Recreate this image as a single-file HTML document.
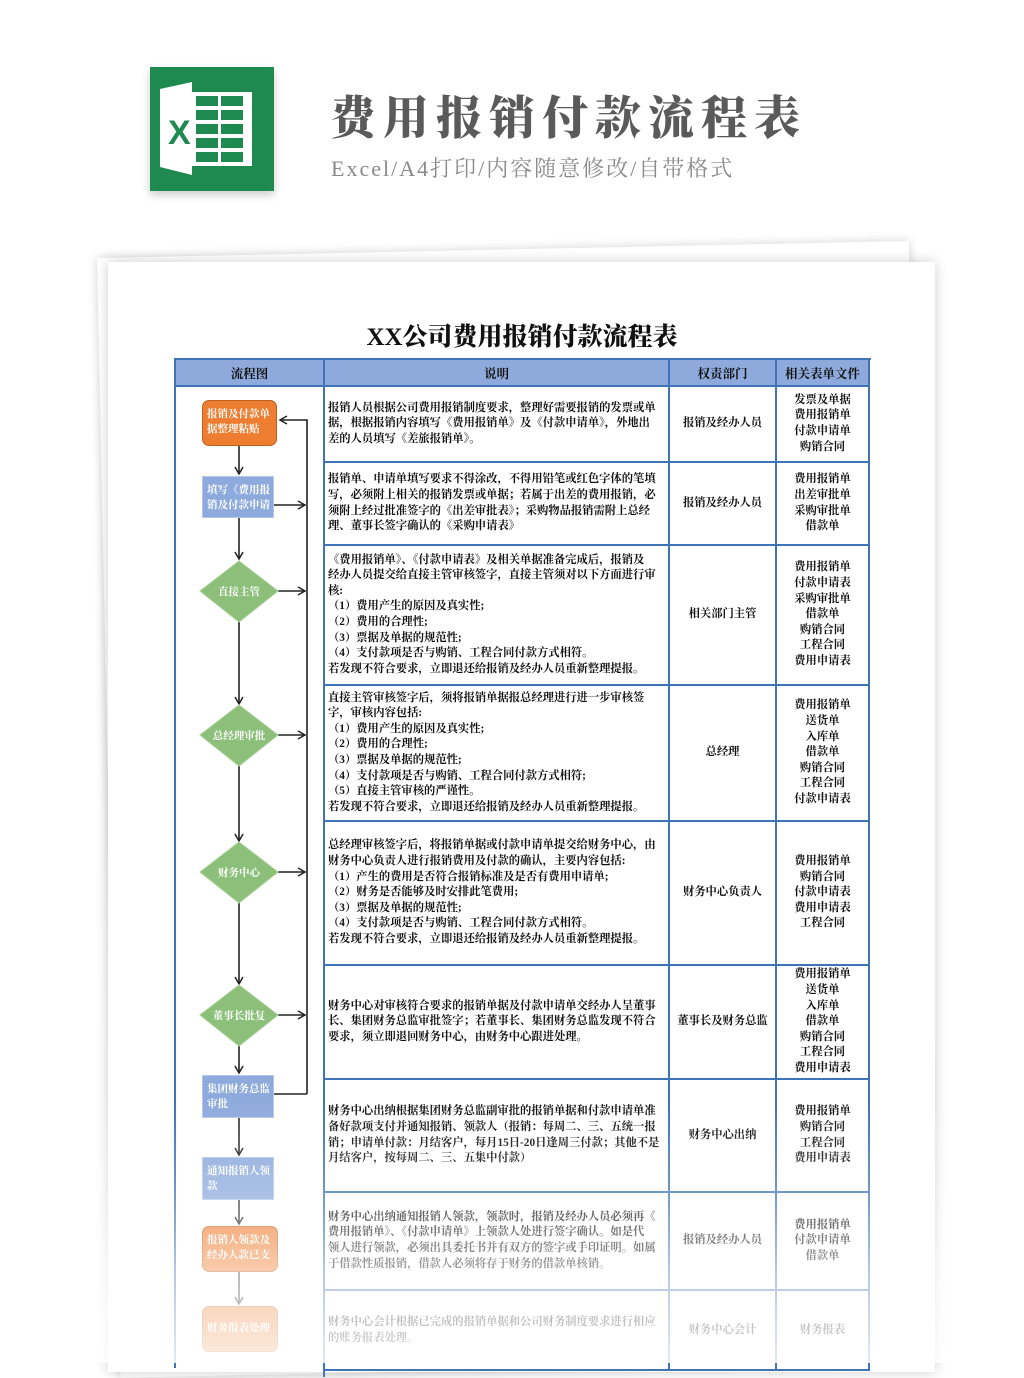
<!DOCTYPE html>
<html><head><meta charset="utf-8">
<style>
*{margin:0;padding:0;box-sizing:border-box}
body{width:1024px;height:1363px;background:#fff;position:relative;overflow:hidden;font-family:"Liberation Serif","Noto Serif CJK SC",serif}
.a{position:absolute}
.cell{position:absolute;display:flex;align-items:center;border-right:2px solid #3f74b8;border-bottom:2px solid #3f74b8}
.desc{font-size:11.3px;line-height:15.6px;padding-left:3px;color:#111;white-space:nowrap;font-weight:700}
.c{justify-content:center;text-align:center;font-size:11.3px;line-height:15.6px;color:#111;font-weight:700}
.hd{background:#8eaadc;font-weight:700;font-size:12.5px;justify-content:center;color:#111}
.node{position:absolute;color:#fff;font-size:10.5px;line-height:15px;padding:6px 3px 0 4px;font-weight:700}
.dtxt{position:absolute;color:#fff;font-size:10.5px;text-align:center;width:80px;font-weight:700}
</style></head><body>
<!-- header -->
<div class="a" style="left:150px;top:67px;width:124px;height:124px;background:#1f8a50;box-shadow:0 4px 8px rgba(0,0,0,.2)"></div>
<svg class="a" style="left:150px;top:67px" width="124" height="124">
<polygon points="10,22 42,15 42,108 10,100" fill="#fff"/>
<rect x="42" y="25" width="60" height="74" fill="#fff"/>
<g fill="#1f8a50"><rect x="46" y="29" width="22" height="10"/><rect x="71" y="29" width="22" height="10"/><rect x="46" y="43" width="22" height="10"/><rect x="71" y="43" width="22" height="10"/><rect x="46" y="57" width="22" height="10"/><rect x="71" y="57" width="22" height="10"/><rect x="46" y="71" width="22" height="10"/><rect x="71" y="71" width="22" height="10"/><rect x="46" y="85" width="22" height="10"/><rect x="71" y="85" width="22" height="10"/></g>
<text x="18" y="77" font-family="Liberation Sans,sans-serif" font-size="34" fill="#1f8a50" font-weight="bold">X</text>
</svg>
<div class="a" style="left:330px;top:82px;font-size:46px;font-weight:900;color:#5a5a5a;letter-spacing:7px;font-family:'Liberation Serif','Noto Serif CJK SC',serif">费用报销付款流程表</div>
<div class="a" style="left:331px;top:152px;font-size:22px;color:#8a8a8a;letter-spacing:2px;font-family:'Liberation Serif','Noto Serif CJK SC',serif">Excel/A4打印/内容随意修改/自带格式</div>
<!-- papers -->
<div class="a" style="left:97px;top:258px;width:812px;height:1120px;background:#fff;box-shadow:0 0 10px rgba(0,0,0,.18);transform:rotate(-1.2deg);transform-origin:left top"></div>
<div class="a" style="left:108px;top:262px;width:827px;height:1110px;background:#fff;box-shadow:0 0 12px rgba(0,0,0,.2)"></div>
<div class="a" style="left:175px;top:317px;width:694px;text-align:center;font-size:25px;font-weight:900;color:#111">XX公司费用报销付款流程表</div>
<!-- table frame -->
<div class="a" style="left:174px;top:358px;width:697px;height:1010px;border-left:2px solid #3f74b8;border-top:2px solid #3f74b8"></div>
<div class="cell hd" style="left:176px;top:360px;width:149px;height:27px">流程图</div>
<div class="cell hd" style="left:325px;top:360px;width:345px;height:27px">说明</div>
<div class="cell hd" style="left:670px;top:360px;width:107px;height:27px">权责部门</div>
<div class="cell hd" style="left:777px;top:360px;width:93px;height:27px">相关表单文件</div>
<div class="cell" style="left:176px;top:387px;width:149px;height:990px;border-bottom:none"></div>

<div class="cell desc" style="left:325px;top:387px;width:345px;height:76px">报销人员根据公司费用报销制度要求，整理好需要报销的发票或单<br>据，根据报销内容填写《费用报销单》及《付款申请单》，外地出<br>差的人员填写《差旅报销单》。</div>
<div class="cell c" style="left:670px;top:387px;width:107px;height:76px">报销及经办人员</div>
<div class="cell c" style="left:777px;top:387px;width:93px;height:76px">发票及单据<br>费用报销单<br>付款申请单<br>购销合同</div>

<div class="cell desc" style="left:325px;top:463px;width:345px;height:83px">报销单、申请单填写要求不得涂改，不得用铅笔或红色字体的笔填<br>写，必须附上相关的报销发票或单据；若属于出差的费用报销，必<br>须附上经过批准签字的《出差审批表》；采购物品报销需附上总经<br>理、董事长签字确认的《采购申请表》</div>
<div class="cell c" style="left:670px;top:463px;width:107px;height:83px">报销及经办人员</div>
<div class="cell c" style="left:777px;top:463px;width:93px;height:83px">费用报销单<br>出差审批单<br>采购审批单<br>借款单</div>

<div class="cell desc" style="left:325px;top:546px;width:345px;height:140px">《费用报销单》、《付款申请表》及相关单据准备完成后，报销及<br>经办人员提交给直接主管审核签字，直接主管须对以下方面进行审<br>核:<br>（1）费用产生的原因及真实性;<br>（2）费用的合理性;<br>（3）票据及单据的规范性;<br>（4）支付款项是否与购销、工程合同付款方式相符。<br>若发现不符合要求，立即退还给报销及经办人员重新整理提报。</div>
<div class="cell c" style="left:670px;top:546px;width:107px;height:140px">相关部门主管</div>
<div class="cell c" style="left:777px;top:546px;width:93px;height:140px">费用报销单<br>付款申请表<br>采购审批单<br>借款单<br>购销合同<br>工程合同<br>费用申请表</div>

<div class="cell desc" style="left:325px;top:686px;width:345px;height:136px">直接主管审核签字后，须将报销单据报总经理进行进一步审核签<br>字，审核内容包括:<br>（1）费用产生的原因及真实性;<br>（2）费用的合理性;<br>（3）票据及单据的规范性;<br>（4）支付款项是否与购销、工程合同付款方式相符;<br>（5）直接主管审核的严谨性。<br>若发现不符合要求，立即退还给报销及经办人员重新整理提报。</div>
<div class="cell c" style="left:670px;top:686px;width:107px;height:136px">总经理</div>
<div class="cell c" style="left:777px;top:686px;width:93px;height:136px">费用报销单<br>送货单<br>入库单<br>借款单<br>购销合同<br>工程合同<br>付款申请表</div>

<div class="cell desc" style="left:325px;top:822px;width:345px;height:144px">总经理审核签字后，将报销单据或付款申请单提交给财务中心，由<br>财务中心负责人进行报销费用及付款的确认，主要内容包括:<br>（1）产生的费用是否符合报销标准及是否有费用申请单;<br>（2）财务是否能够及时安排此笔费用;<br>（3）票据及单据的规范性;<br>（4）支付款项是否与购销、工程合同付款方式相符。<br>若发现不符合要求，立即退还给报销及经办人员重新整理提报。</div>
<div class="cell c" style="left:670px;top:822px;width:107px;height:144px">财务中心负责人</div>
<div class="cell c" style="left:777px;top:822px;width:93px;height:144px">费用报销单<br>购销合同<br>付款申请表<br>费用申请表<br>工程合同</div>

<div class="cell desc" style="left:325px;top:966px;width:345px;height:114px">财务中心对审核符合要求的报销单据及付款申请单交经办人呈董事<br>长、集团财务总监审批签字；若董事长、集团财务总监发现不符合<br>要求，须立即退回财务中心，由财务中心跟进处理。</div>
<div class="cell c" style="left:670px;top:966px;width:107px;height:114px">董事长及财务总监</div>
<div class="cell c" style="left:777px;top:966px;width:93px;height:114px">费用报销单<br>送货单<br>入库单<br>借款单<br>购销合同<br>工程合同<br>费用申请表</div>

<div class="cell desc" style="left:325px;top:1080px;width:345px;height:113px">财务中心出纳根据集团财务总监副审批的报销单据和付款申请单准<br>备好款项支付并通知报销、领款人（报销：每周二、三、五统一报<br>销；申请单付款：月结客户，每月15日-20日逢周三付款；其他不是<br>月结客户，按每周二、三、五集中付款）</div>
<div class="cell c" style="left:670px;top:1080px;width:107px;height:113px">财务中心出纳</div>
<div class="cell c" style="left:777px;top:1080px;width:93px;height:113px">费用报销单<br>购销合同<br>工程合同<br>费用申请表</div>

<div class="cell desc" style="left:325px;top:1193px;width:345px;height:98px">财务中心出纳通知报销人领款，领款时，报销及经办人员必须再《<br>费用报销单》、《付款申请单》上领款人处进行签字确认。如是代<br>领人进行领款，必须出具委托书并有双方的签字或手印证明。如属<br>于借款性质报销，借款人必须将存于财务的借款单核销。</div>
<div class="cell c" style="left:670px;top:1193px;width:107px;height:98px">报销及经办人员</div>
<div class="cell c" style="left:777px;top:1193px;width:93px;height:98px">费用报销单<br>付款申请单<br>借款单</div>

<div class="cell desc" style="left:325px;top:1291px;width:345px;height:80px;align-items:flex-start;padding-top:24px">财务中心会计根据已完成的报销单据和公司财务制度要求进行相应<br>的账务报表处理。</div>
<div class="cell c" style="left:670px;top:1291px;width:107px;height:80px;align-items:flex-start;padding-top:32px">财务中心会计</div>
<div class="cell c" style="left:777px;top:1291px;width:93px;height:80px;align-items:flex-start;padding-top:32px">财务报表</div>

<!-- flowchart -->
<svg class="a" style="left:0;top:0" width="1024" height="1363">
<defs><marker id="ar" markerWidth="10" markerHeight="10" refX="8" refY="5" orient="auto" markerUnits="userSpaceOnUse"><path d="M1,1 L8,5 L1,9" fill="none" stroke="#222" stroke-width="1.5"/></marker></defs>
<g stroke="#222" stroke-width="1.6" fill="none">
<path d="M307,1094 V420 H280" marker-end="url(#ar)"/>
<path d="M274,1094 H307"/>
<path d="M274,505 H305" marker-end="url(#ar)"/>
<path d="M278,591 H305" marker-end="url(#ar)"/>
<path d="M278,735 H305" marker-end="url(#ar)"/>
<path d="M278,872 H305" marker-end="url(#ar)"/>
<path d="M278,1015 H305" marker-end="url(#ar)"/>
<path d="M239,446 V474" marker-end="url(#ar)"/>
<path d="M239,518 V559" marker-end="url(#ar)"/>
<path d="M239,622 V704" marker-end="url(#ar)"/>
<path d="M239,766 V841" marker-end="url(#ar)"/>
<path d="M239,903 V984" marker-end="url(#ar)"/>
<path d="M239,1046 V1073" marker-end="url(#ar)"/>
<path d="M239,1118 V1155" marker-end="url(#ar)"/>
<path d="M239,1200 V1224" marker-end="url(#ar)"/>
<path d="M239,1272 V1304" marker-end="url(#ar)"/>
</g>
<g fill="#8cc07a" stroke="#a8d095" stroke-width="1">
<polygon points="239,561 278,591 239,622 200,591"/>
<polygon points="239,705 278,735 239,766 200,735"/>
<polygon points="239,842 278,872 239,903 200,872"/>
<polygon points="239,985 278,1015 239,1046 200,1015"/>
</g>
</svg>
<div class="node" style="left:202px;top:400px;width:75px;height:46px;background:#ed7d31;border:1px solid #c0601f;border-radius:7px">报销及付款单<br>据整理粘贴</div>
<div class="node" style="left:202px;top:476px;width:72px;height:42px;background:#8eaadc;border:1px solid #b4c7e7">填写《费用报<br>销及付款申请</div>
<div class="dtxt" style="left:199px;top:584px">直接主管</div>
<div class="dtxt" style="left:199px;top:728px">总经理审批</div>
<div class="dtxt" style="left:199px;top:865px">财务中心</div>
<div class="dtxt" style="left:199px;top:1008px">董事长批复</div>
<div class="node" style="left:202px;top:1075px;width:72px;height:43px;background:#8eaadc;border:1px solid #b4c7e7">集团财务总监<br>审批</div>
<div class="node" style="left:202px;top:1157px;width:72px;height:43px;background:#8eaadc;border:1px solid #b4c7e7">通知报销人领<br>款</div>
<div class="node" style="left:202px;top:1226px;width:76px;height:46px;background:#ed7d31;border:1px solid #c0601f;border-radius:7px">报销人领款及<br>经办人款已支</div>
<div class="node" style="left:202px;top:1306px;width:76px;height:46px;background:#ed7d31;border:1px solid #c0601f;border-radius:7px;padding-top:14px">财务报表处理</div>
<!-- fade -->
<div class="a" style="left:0;top:1100px;width:1024px;height:263px;background:linear-gradient(to bottom,rgba(255,255,255,0) 0%,rgba(255,255,255,.25) 35%,rgba(255,255,255,.6) 65%,rgba(255,255,255,.85) 100%)"></div>
</body></html>
